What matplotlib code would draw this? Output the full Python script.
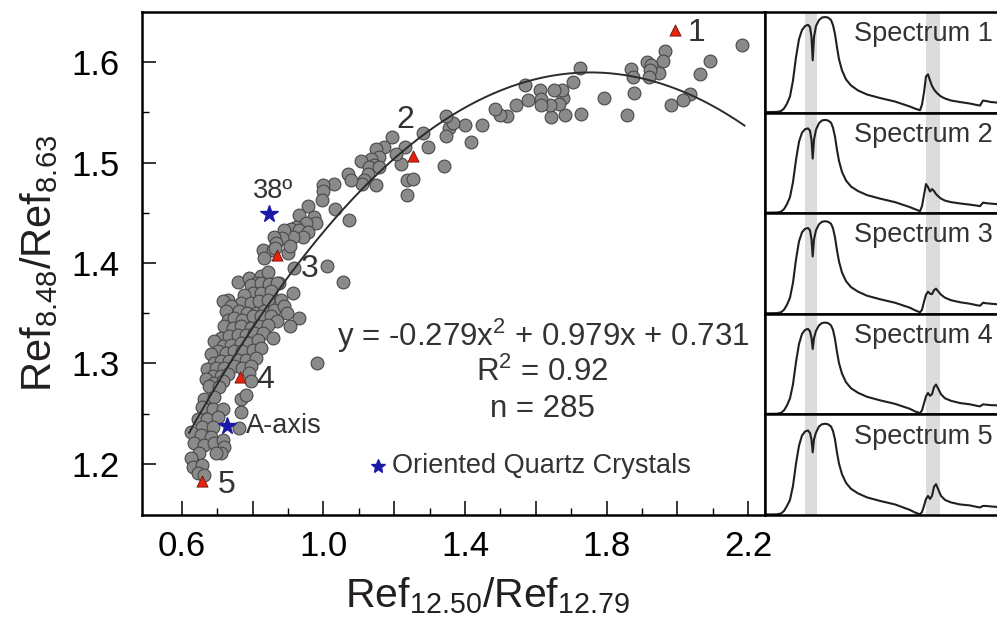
import numpy as np
import matplotlib.pyplot as plt

plt.rcParams['font.family'] = ['Liberation Sans', 'DejaVu Sans']
plt.rcParams['mathtext.fontset'] = 'custom'
plt.rcParams['mathtext.rm'] = 'Liberation Sans'
plt.rcParams['mathtext.default'] = 'regular'

# ratio data (Ref12.50/Ref12.79, Ref8.48/Ref8.63)
ratio_x = [
    2.184, 2.092, 2.064, 2.036, 2.016, 1.981, 1.965, 1.960, 1.948, 1.915,
    1.925, 1.923, 1.921, 1.870, 1.874, 1.878, 1.859, 1.793, 1.725, 1.706,
    1.727, 1.682, 1.677, 1.673, 1.652, 1.666, 1.642, 1.640, 1.612, 1.614,
    1.614, 1.578, 1.570, 1.545, 1.520, 1.498, 1.484, 1.449, 1.416, 1.399,
    1.355, 1.365, 1.346, 1.346, 1.341,
    1.296, 1.280, 1.231, 1.219, 1.236, 1.254, 1.236, 1.195, 1.172, 1.205,
    1.148, 1.157, 1.134, 1.106, 1.143, 1.129, 1.125, 1.157, 1.115, 1.148,
    1.110, 1.068, 1.079, 1.030, 1.000, 1.000, 0.995, 1.032, 1.073, 0.955,
    0.931, 0.974, 0.979, 0.950, 0.922, 0.908, 0.931, 0.955, 0.941, 0.913,
    0.889, 0.884, 0.861, 0.866, 0.828, 0.856, 0.899, 0.833,
    0.917, 1.010, 0.757, 0.790, 0.823, 0.842, 0.809, 0.875, 0.864, 0.905,
    1.054, 0.913, 0.931, 0.906, 0.983,
    0.795, 0.823, 0.847, 0.870, 0.800, 0.823, 0.851, 0.776, 0.767, 0.795,
    0.818, 0.842, 0.880, 0.729, 0.715, 0.738, 0.762, 0.785, 0.809, 0.833,
    0.861, 0.889, 0.898, 0.724, 0.729, 0.748, 0.771, 0.800, 0.823, 0.851,
    0.870, 0.720, 0.743, 0.767, 0.795, 0.818, 0.842, 0.710, 0.734, 0.757,
    0.781, 0.804, 0.828, 0.856, 0.691, 0.715, 0.738, 0.767, 0.790, 0.814,
    0.701, 0.682, 0.724, 0.748, 0.771, 0.800, 0.823, 0.691, 0.710, 0.734,
    0.757, 0.781, 0.809, 0.672, 0.696, 0.720, 0.748, 0.771, 0.795, 0.687,
    0.710, 0.729, 0.790, 0.668, 0.691, 0.715, 0.795, 0.677,
    0.705, 0.663, 0.691, 0.658, 0.687, 0.715, 0.767, 0.781, 0.767, 0.644,
    0.672, 0.701, 0.658, 0.687, 0.625, 0.654, 0.682, 0.635, 0.663, 0.691,
    0.715, 0.720, 0.710, 0.696, 0.649, 0.625, 0.630, 0.658, 0.644, 0.663,
    0.762,
]
ratio_y = [
    1.617, 1.601, 1.588, 1.568, 1.562, 1.557, 1.611, 1.601, 1.589, 1.600,
    1.597, 1.592, 1.585, 1.593, 1.585, 1.569, 1.547, 1.564, 1.594, 1.580,
    1.548, 1.547, 1.564, 1.572, 1.572, 1.558, 1.545, 1.557, 1.572, 1.563,
    1.557, 1.562, 1.577, 1.557, 1.546, 1.547, 1.553, 1.537, 1.521, 1.537,
    1.534, 1.539, 1.546, 1.526, 1.497,
    1.516, 1.529, 1.516, 1.499, 1.483, 1.484, 1.468, 1.525, 1.516, 1.509,
    1.514, 1.506, 1.504, 1.502, 1.498, 1.496, 1.489, 1.496, 1.483, 1.478,
    1.479, 1.489, 1.483, 1.479, 1.478, 1.472, 1.463, 1.454, 1.443, 1.457,
    1.448, 1.446, 1.440, 1.440, 1.436, 1.434, 1.433, 1.431, 1.426, 1.426,
    1.433, 1.425, 1.426, 1.420, 1.413, 1.413, 1.410, 1.405,
    1.395, 1.397, 1.381, 1.385, 1.387, 1.391, 1.380, 1.380, 1.415, 1.417,
    1.381, 1.370, 1.345, 1.337, 1.300,
    1.378, 1.380, 1.379, 1.380, 1.370, 1.370, 1.372, 1.368, 1.360, 1.360,
    1.362, 1.363, 1.363, 1.363, 1.362, 1.357, 1.352, 1.350, 1.350, 1.352,
    1.353, 1.357, 1.350, 1.352, 1.343, 1.345, 1.343, 1.347, 1.347, 1.347,
    1.342, 1.337, 1.335, 1.337, 1.335, 1.337, 1.338, 1.325, 1.327, 1.328,
    1.328, 1.330, 1.330, 1.325, 1.322, 1.317, 1.318, 1.320, 1.320, 1.323,
    1.312, 1.309, 1.310, 1.312, 1.312, 1.313, 1.315, 1.300, 1.302, 1.302,
    1.303, 1.303, 1.305, 1.294, 1.295, 1.295, 1.297, 1.295, 1.297, 1.287,
    1.287, 1.289, 1.290, 1.284, 1.280, 1.282, 1.282, 1.277,
    1.276, 1.265, 1.267, 1.257, 1.255, 1.255, 1.265, 1.269, 1.252, 1.245,
    1.245, 1.247, 1.237, 1.237, 1.232, 1.229, 1.227, 1.221, 1.219, 1.221,
    1.224, 1.217, 1.211, 1.211, 1.211, 1.206, 1.197, 1.199, 1.191, 1.189,
    1.236,
]

# numbered samples whose spectra are shown on the right
sample_x = [1.995, 1.252, 0.870, 0.764, 0.656]
sample_y = [1.632, 1.507, 1.408, 1.286, 1.183]
sample_ids = ['1', '2', '3', '4', '5']

# oriented quartz crystals
quartz_x = [0.846, 0.727]
quartz_y = [1.449, 1.238]
quartz_names = ['38º', 'A-axis']

# polynomial fit
fit_coef = [-0.279, 0.979, 0.731]
fit_r2 = 0.92
n_points = 285
fit_range = [0.62, 2.19]

# spectra (position along the spectral axis, reflectance in %)
spec_x = [0, 12, 16, 19, 22, 25, 28, 31, 34, 37,
          40, 43, 45, 46.5, 47.7, 49, 51, 54, 57, 60,
          63, 66, 68, 70, 72, 74, 77, 81, 86, 93,
          102, 115, 130, 145, 150, 155, 157, 159, 161, 163,
          165, 167, 169, 171, 173, 176, 180, 186, 195, 205,
          212, 215, 218, 221, 226, 232]
spec1 = [0.5, 0.7, 1.5, 4, 9, 16, 32, 55, 73, 82,
         86, 87.3, 85, 75, 52, 75, 86, 92, 94.5, 95,
         94.5, 92, 87, 78, 65, 53, 42, 33, 27, 22,
         18, 14.5, 11, 6, 4, 2.3, 8, 20, 36, 38,
         32, 26.5, 23, 20.5, 18.5, 16, 14, 12, 10.5, 9,
         7.5, 7, 12, 11.5, 10.5, 10]
spec2 = [0.5, 0.7, 1.5, 4, 9, 16, 31, 53, 71, 80,
         83.5, 84.3, 82, 73, 54.3, 73, 83, 89.5, 92.2, 92.7,
         92.2, 90, 85, 76, 63, 52, 41, 32.5, 26.5, 22,
         18, 14.5, 11, 6, 4, 2, 7, 18, 29, 26,
         21.5, 24, 22, 19, 17, 14.5, 12.5, 11, 9.7, 8.5,
         7.5, 7, 10.5, 10, 9.5, 9]
spec3 = [0.5, 0.7, 1.5, 4, 9, 16, 31, 54, 72, 81,
         84.5, 85.3, 83, 74, 57, 74, 83, 89, 91.5, 92,
         91.5, 89.5, 85, 76, 63, 52, 41, 32.5, 26.5, 22,
         18, 14.5, 11, 6, 3.5, 1.5, 4, 12, 19, 22,
         20, 19.5, 23.5, 25, 22.5, 19, 16, 13.5, 11.5, 10,
         8.5, 8, 11, 10.5, 10, 9.5]
spec4 = [0.5, 0.7, 1.5, 4, 9, 16, 30, 52, 70, 80,
         84, 85, 82.5, 76, 65, 76, 83, 88.5, 90.8, 91.3,
         90.8, 88.5, 84, 75, 62, 51, 40.5, 32, 26, 21.5,
         17.5, 14, 10.5, 5.5, 3, 1.3, 4, 11, 18, 21.3,
         18.5, 20, 27, 29.7, 26, 20, 16, 13.5, 11.3, 10,
         8.5, 8, 10, 9.7, 9.2, 9]
spec5 = [0.5, 0.7, 1.5, 4, 9, 15, 29, 51, 69, 79,
         83, 84, 81.5, 75, 62.3, 75, 82, 88, 90.2, 90.7,
         90.2, 88, 83.5, 75, 62, 51, 40.5, 32, 26, 21.5,
         17.5, 14, 10.5, 5, 2.5, 0.7, 3, 9, 16, 19,
         16, 19, 28, 30.7, 26, 19, 15, 12.5, 10.5, 9.5,
         8, 7.5, 9, 9, 8.5, 8]
spectra = [spec1, spec2, spec3, spec4, spec5]
spec_names = ['Spectrum 1', 'Spectrum 2', 'Spectrum 3', 'Spectrum 4', 'Spectrum 5']
bands = [(40, 51.7), (161, 175)]

W, H = 997, 626
fig = plt.figure(figsize=(W / 100, H / 100), dpi=100)

left, right, top, bottom = 142 / W, 765 / W, 1 - 12 / H, 1 - 515 / H
ax = fig.add_axes([left, bottom, right - left, top - bottom])

ax.scatter(ratio_x, ratio_y, s=85, facecolor='#8a8a8a', edgecolor='#484848',
           linewidth=0.8, zorder=2)

xf = np.linspace(fit_range[0], fit_range[1], 200)
ax.plot(xf, np.polyval(fit_coef, xf), color='#2b2b2b', lw=1.4, zorder=3)

ax.scatter(sample_x, sample_y, marker='^', s=65, facecolor='#e8200c',
           edgecolor='#6a1a10', linewidth=0.6, zorder=4)
label_off = [(0.06, -0.003), (-0.02, 0.035), (0.09, -0.014), (0.07, -0.003), (0.07, -0.004)]
for sx, sy, sid, (dx, dy) in zip(sample_x, sample_y, sample_ids, label_off):
    ax.text(sx + dx, sy + dy, sid, fontsize=23, color='#333333', ha='center', va='center')

ax.plot(quartz_x, quartz_y, ls='none', marker='*', ms=13, color='#1a1aa8', zorder=5)
ax.text(quartz_x[0] + 0.01, quartz_y[0] + 0.023, quartz_names[0], fontsize=19.5,
        color='#333333', ha='center', va='center')
ax.text(quartz_x[1] + 0.055, quartz_y[1], quartz_names[1], fontsize=19.5,
        color='#333333', ha='left', va='center')

ax.plot([1.155], [1.198], ls='none', marker='*', ms=10, color='#1a1aa8')
ax.text(1.195, 1.198, 'Oriented Quartz Crystals', fontsize=19.5, color='#333333',
        ha='left', va='center')

a, b, c = fit_coef
eq = f'y = {a:.3f}x$^2$ + {b:.3f}x + {c:.3f}'
ax.text(1.62, 1.327, eq, fontsize=22.5, color='#333333', ha='center', va='center')
ax.text(1.62, 1.291, f'R$^2$ = {fit_r2:.2f}', fontsize=22.5, color='#333333',
        ha='center', va='center')
ax.text(1.62, 1.255, f'n = {n_points}', fontsize=22.5, color='#333333',
        ha='center', va='center')

ax.set_xlim(0.487, 2.248)
ax.set_ylim(1.149, 1.65)
xmaj = [0.6, 0.8, 1.0, 1.2, 1.4, 1.6, 1.8, 2.0, 2.2]
ax.set_xticks(xmaj)
ax.set_xticklabels(['0.6', '', '1.0', '', '1.4', '', '1.8', '', '2.2'])
ax.set_xticks([0.7, 0.9, 1.1, 1.3, 1.5, 1.7, 1.9, 2.1], minor=True)
ax.set_yticks([1.2, 1.3, 1.4, 1.5, 1.6])
ax.set_yticks([1.25, 1.35, 1.45, 1.55], minor=True)
ax.tick_params(which='major', direction='in', length=10, width=1.1, labelsize=25)
ax.tick_params(axis='x', which='major', pad=11)
ax.tick_params(axis='y', which='major', pad=16)
ax.tick_params(which='minor', direction='in', length=5, width=1.0)
for sp in ax.spines.values():
    sp.set_linewidth(1.8)
ax.set_xlabel('Ref$_{12.50}$/Ref$_{12.79}$', fontsize=29.5, color='#231f20')
ax.xaxis.set_label_coords(0.555, -0.121)
ax.set_ylabel('Ref$_{8.48}$/Ref$_{8.63}$', fontsize=30, color='#231f20')
ax.yaxis.set_label_coords(-0.132, 0.5)

# stacked spectra on the right
ph = (top - bottom) / 5
for i, (spec, name) in enumerate(zip(spectra, spec_names)):
    sax = fig.add_axes([right, top - (i + 1) * ph, 1 - right, ph])
    for b0, b1 in bands:
        sax.axvspan(b0, b1, color='#dcdcdc', lw=0, zorder=0)
    sax.plot(spec_x, spec, color='#231f20', lw=1.5, zorder=2)
    sax.text(89, 78, name, fontsize=19.5, color='#333333', ha='left', va='center')
    sax.set_xlim(0, 232)
    sax.set_ylim(0, 100)
    sax.set_xticks([])
    sax.set_yticks([])
    sax.spines['right'].set_visible(False)
    for s in ['left', 'top', 'bottom']:
        sax.spines[s].set_linewidth(1.8)

fig.savefig('out.png', dpi=100)
